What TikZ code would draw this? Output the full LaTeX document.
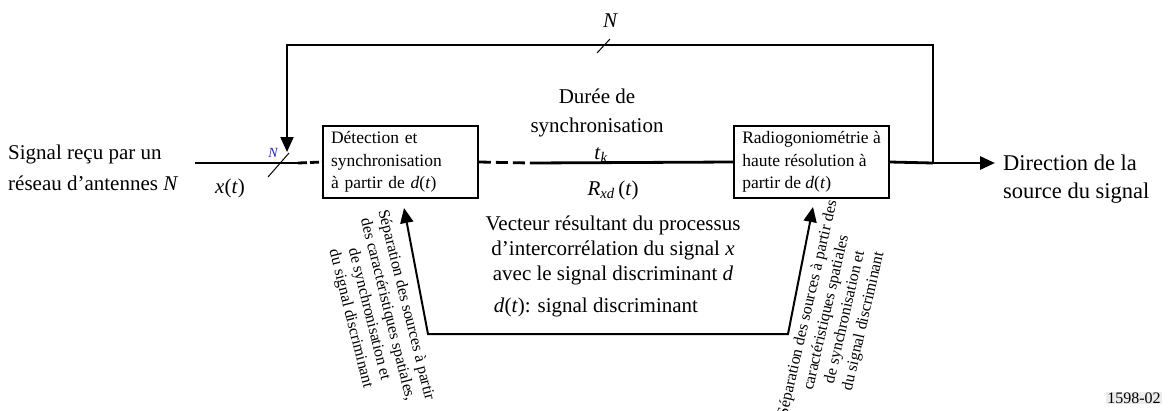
\documentclass[tikz,border=0pt]{standalone}
\usepackage{fontspec}
\setmainfont{Liberation Serif}
\usepackage{tikz}
\usetikzlibrary{arrows.meta}
\definecolor{labelblue}{RGB}{40, 40, 170}

\begin{document}
\begin{tikzpicture}[x=1pt, y=-1pt,
  bigtxt/.style={font=\fontsize{21}{25}\selectfont, align=center, inner sep=0pt},
  boxtxt/.style={font=\fontsize{17.5}{22.5}\selectfont, align=left},
  sidetxt/.style={font=\fontsize{16}{19}\selectfont, align=center, inner sep=0pt},
  block/.style={draw, line width=1.6pt, minimum width=155pt, minimum height=72pt, inner xsep=7pt, inner ysep=2pt},
  sig/.style={line width=2.8pt},
  loopline/.style={line width=2pt},
  tip/.style={-{Triangle[length=15pt, width=13pt]}},
  twotips/.style={{Triangle[length=15pt, width=13pt]}-{Triangle[length=15pt, width=13pt]}}]
\useasboundingbox (0,0) rectangle (1169,410);

% Processing blocks
\node[block, boxtxt, text width=139pt] (det) at (400.5,162) {D\'etection et\\synchronisation\\\`a partir de \textit{d}(\textit{t})};
\node[block, boxtxt] (doa) at (811.5,162) {Radiogoniom\'etrie \`a\\haute r\'esolution \`a\\partir de \textit{d}(\textit{t})};

% Points on the signal path
\coordinate (in) at (195,163);
\coordinate (dash1) at (298,163);
\coordinate (dash2) at (530,163);
\coordinate (tap) at (933,163);
\coordinate (out) at (995,163);
\coordinate (fbtop) at (287,45);
\coordinate (fbin) at (287,152);
\coordinate (back1) at (404,208);
\coordinate (back2) at (813,207);
\coordinate (corner1) at (428,334);
\coordinate (corner2) at (788,334);

% Main signal path
\draw[sig] (in) -- (dash1);
\draw[sig, dash pattern=on 9pt off 3pt] (dash1) -- (det.west);
\draw[sig, dash pattern=on 12pt off 5pt] (det.east) -- (dash2);
\draw[sig] (dash2) -- (doa.west);
\draw[sig] (doa.east) -- (tap);
\draw[sig, tip] (tap) -- (out);

% Feedback of the N directions
\draw[loopline, tip] (tap) |- (fbtop) -- (fbin);
\draw[line width=1pt] (597,53) -- (610,39);
\draw[line width=1pt] (268,177) -- (289,153);
\node[font=\fontsize{21}{25}\selectfont\itshape] (ntop) at (610,21) {N};
\node[font=\fontsize{14}{16}\selectfont\itshape, text=labelblue, inner sep=0pt] (nin) at (273,153) {N};

% Source separation loop
\draw[loopline, twotips] (back2) -- (corner2) -- (corner1) -- (back1);

% Labels
\node[bigtxt, anchor=west, align=left, font=\fontsize{21}{31}\selectfont] (src) at (8,168) {Signal re\c{c}u par un\\r\'eseau d'antennes \textit{N}};
\node[bigtxt, anchor=west, align=left, font=\fontsize{22.5}{28}\selectfont] (dir) at (1003,179) {Direction de la\\source du signal};
\node[bigtxt] (xt) at (230,188) {\textit{x}(\textit{t})};
\node[bigtxt, font=\fontsize{21}{29}\selectfont] (sync) at (597,113) {Dur\'ee de\\synchronisation};
\node[bigtxt] (tk) at (601,155) {\textit{t}\textsubscript{\textit{k}}};
\node[bigtxt] (rxd) at (613,190) {\textit{R}\textsubscript{\textit{xd}}\,(\textit{t})};
\node[bigtxt] (vec) at (613,250) {Vecteur r\'esultant du processus\\d'intercorr\'elation du signal \textit{x}\\avec le signal discriminant \textit{d}};
\node[bigtxt] (dsig) at (596,307) {\textit{d}(\textit{t}): signal discriminant};
\node[sidetxt, rotate=-76] (sep1) at (378,312) {S\'eparation des sources \`a partir\\des caract\'eristiques spatiales,\\de synchronisation et\\du signal discriminant};
\node[sidetxt, rotate=77] (sep2) at (836,315) {S\'eparation des sources \`a partir des\\caract\'eristiques spatiales\\de synchronisation et\\du signal discriminant};
\node[font=\fontsize{16}{18}\selectfont, fill=gray!15, inner sep=1pt] (fig) at (1134,398) {1598-02};
\end{tikzpicture}
\end{document}
